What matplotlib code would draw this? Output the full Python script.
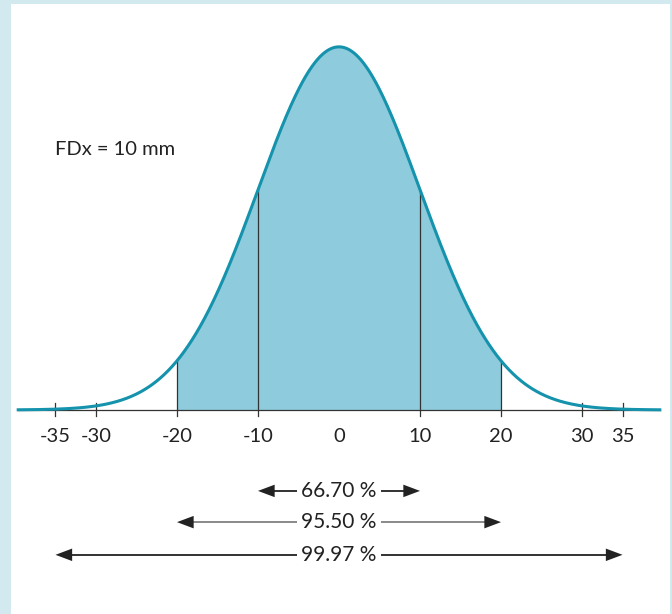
import numpy as np
import matplotlib
matplotlib.use("Agg")
import matplotlib.pyplot as plt
from matplotlib.patches import Rectangle

plt.rcParams['font.family'] = ['Lato', 'DejaVu Sans']

# Datos de la curva
media = 0
fdx = 10  # desviacion (mm)
x_min, x_max = -39.6, 39.6

tick_pos = [-35, -30, -20, -10, 0, 10, 20, 30, 35]
tick_labels = ["-35", "-30", "-20", "-10", "0", "10", "20", "30", "35"]
marcas_cortas = [-35, -30, 30, 35]
lineas_sigma = [-20, -10, 10, 20]

rangos = [(-10, 10), (-20, 20), (-35, 35)]
porcentajes = ["66.70 %", "95.50 %", "99.97 %"]
colores_linea = ["#222222", "#808080", "#222222"]

c_linea = "#1593ad"
c_relleno = "#8ecbdc"
c_borde = "#d2e9ef"

fig = plt.figure(figsize=(6.72, 6.14), dpi=100)
fig.patch.set_facecolor(c_borde)
ax = fig.add_axes([11 / 672, 0, (670 - 11) / 672, (614 - 4) / 614])
ax.set_xlim(-40.49, 40.86)
ax.set_ylim(-0.562, 1.118)
ax.axis("off")
# Fondo blanco interior
ax.add_patch(Rectangle((0, 0), 1, 1, transform=ax.transAxes, facecolor="white",
                       edgecolor="none", zorder=0))

x = np.linspace(x_min, x_max, 800)
y = np.exp(-0.5 * ((x - media) / fdx) ** 2)

# Relleno entre -2 y +2 desviaciones
m = (x >= -20) & (x <= 20)
ax.fill_between(x[m], 0, y[m], color=c_relleno, lw=0, zorder=1)

# Linea base
ax.plot([x_min, x_max], [0, 0], color="#333333", lw=0.9, zorder=2)

# Lineas verticales
for xv in lineas_sigma:
    yv = np.exp(-0.5 * ((xv - media) / fdx) ** 2)
    ax.plot([xv, xv], [-0.018, yv], color="#333333", lw=0.9, zorder=2)

for xv in marcas_cortas:
    ax.plot([xv, xv], [-0.018, 0.018], color="#333333", lw=0.9, zorder=2)

# Curva
ax.plot(x, y, color=c_linea, lw=2.2, zorder=3)

# Etiquetas de eje
for p, t in zip(tick_pos, tick_labels):
    ax.text(p, -0.072, t, ha="center", va="center", fontsize=14.5, color="#222222")

ax.text(-35.06, 0.716, "FDx = 10 mm", ha="left", va="center", fontsize=14.5, color="#222222")

# Flechas de porcentaje
y_flechas = [-0.223, -0.309, -0.399]
for (a, b), txt, col, yf in zip(rangos, porcentajes, colores_linea, y_flechas):
    ax.text(0, yf, txt, ha="center", va="center", fontsize=15, color="#222222",
            bbox=dict(facecolor="white", edgecolor="none", pad=3), zorder=5)
    ax.plot([a + 1.5, b - 1.5], [yf, yf], color=col, lw=1.3, zorder=4)
    for xa, xb in [(a + 2.0, a), (b - 2.0, b)]:
        ax.annotate("", xy=(xb, yf), xytext=(xa, yf),
                    arrowprops=dict(arrowstyle="-|>,head_length=1.2,head_width=0.45",
                                    color="#222222", lw=0, shrinkA=0, shrinkB=0),
                    zorder=4)

fig.savefig("out.png", dpi=100, facecolor=fig.get_facecolor())
